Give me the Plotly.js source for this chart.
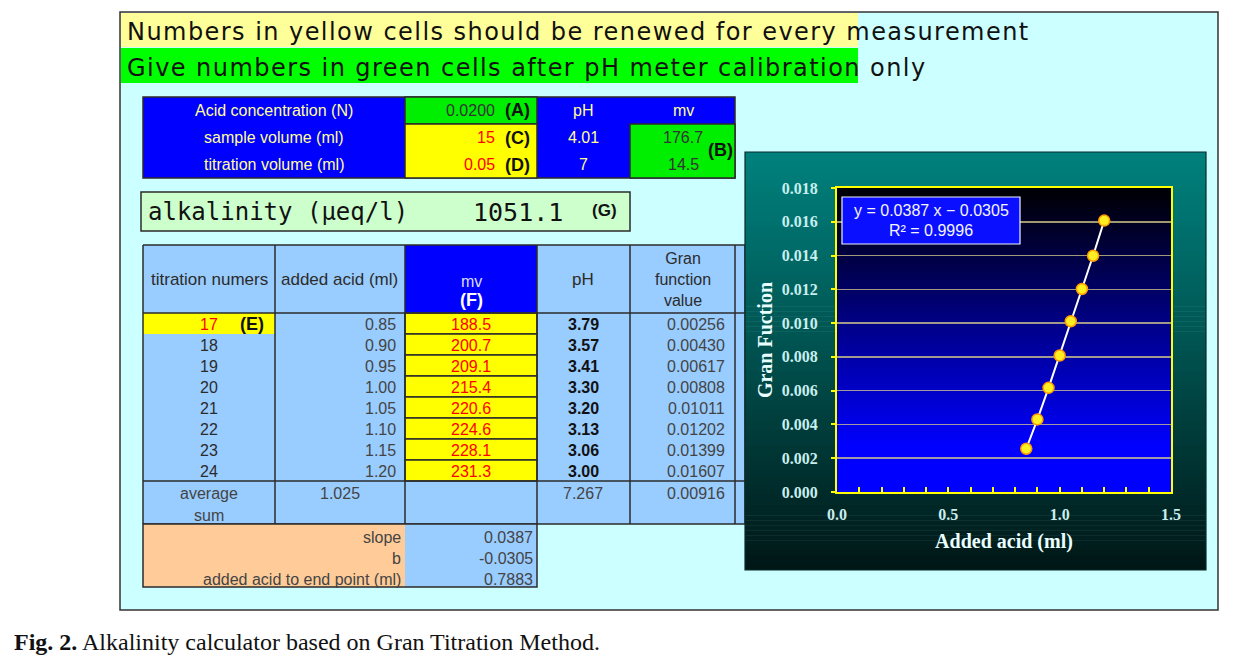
<!DOCTYPE html>
<html>
<head>
<meta charset="utf-8">
<script src="https://cdn.plot.ly/plotly-3.0.1.min.js"></script>
<style>
  html, body { margin: 0; padding: 0; background: #ffffff; }
  #chart { width: 1238px; height: 661px; }
</style>
</head>
<body>
<div id="chart"></div>
<script>
// ---------------- data ----------------
const bannerTexts = [
  'Numbers in yellow cells should be renewed for every measurement',
  'Give numbers in green cells after pH meter calibration only'
];
const inputLabels = ['Acid concentration (N)', 'sample volume (ml)', 'titration volume (ml)'];
const inputValues = ['0.0200', '15', '0.05'];
const inputTags = ['(A)', '(C)', '(D)'];
const calibHeaders = ['pH', 'mv'];
const calibPH = ['4.01', '7'];
const calibMV = ['176.7', '14.5'];
const alkalinityLabel = 'alkalinity (\u03bceq/l)';
const alkalinityValue = '1051.1';
const tableHeaders = ['titration numers', 'added acid (ml)', 'mv', 'pH', 'Gran<br>function<br>value'];
const titrationNumbers = [17, 18, 19, 20, 21, 22, 23, 24];
const addedAcid = [0.85, 0.90, 0.95, 1.00, 1.05, 1.10, 1.15, 1.20];
const mvValues = [188.5, 200.7, 209.1, 215.4, 220.6, 224.6, 228.1, 231.3];
const pHValues = [3.79, 3.57, 3.41, 3.30, 3.20, 3.13, 3.06, 3.00];
const granValues = [0.00256, 0.00430, 0.00617, 0.00808, 0.01011, 0.01202, 0.01399, 0.01607];
const summaryLabels = ['average', 'sum'];
const summaryAcid = '1.025';
const summaryPH = '7.267';
const summaryGran = '0.00916';
const regressionLabels = ['slope', 'b', 'added acid to end point (ml)'];
const regressionValues = ['0.0387', '-0.0305', '0.7883'];
const equationLines = ['y = 0.0387 x \u2212 0.0305', 'R\u00b2 = 0.9996'];
const xTitle = 'Added acid (ml)';
const yTitle = 'Gran Fuction';
const caption = '<b>Fig. 2.</b> Alkalinity calculator based on Gran Titration Method.';

// ---------------- helpers ----------------
const W = 1238, H = 661;
const px = x => x / W;
const py = y => 1 - y / H;
const shapes = [];
const ann = [];
function rect(x0, y0, x1, y1, fill, lc, lw, layer) {
  shapes.push({type: 'rect', xref: 'paper', yref: 'paper',
    x0: px(x0), x1: px(x1), y0: py(y1), y1: py(y0),
    fillcolor: fill || 'rgba(0,0,0,0)',
    line: lc ? {color: lc, width: lw || 1} : {width: 0},
    layer: layer || 'below'});
}
function line(x0, y0, x1, y1, lc, lw, layer) {
  shapes.push({type: 'line', xref: 'paper', yref: 'paper',
    x0: px(x0), x1: px(x1), y0: py(y0), y1: py(y1),
    line: {color: lc, width: lw || 1}, layer: layer || 'below'});
}
function txt(x, y, s, size, color, anchor, opts) {
  opts = opts || {};
  ann.push({xref: 'paper', yref: 'paper', x: px(x), y: py(y), text: s,
    showarrow: false, xanchor: anchor || 'center', yanchor: 'middle',
    align: opts.align || 'center',
    font: {family: opts.family || 'Liberation Sans, Arial, sans-serif', size: size,
      color: color, weight: opts.bold ? 'bold' : 'normal'}});
}
const DARK = '#2b2b2b';
const LBLUE = '#99ccff';
const BLUE = '#0000ff';
const YEL = '#ffff00';
const GRN = '#00ee00';
const RED = '#ff0000';
const PALE = '#ffff99';
const TS = 16;   // table label size
const HS = 17;   // header label size
const NS_ = 16;  // table number size

// ---------------- spreadsheet panel ----------------
rect(120, 12, 1218, 610, '#ccffff', '#333333', 1.5);
rect(121, 13, 858, 47, '#ffff99');
rect(121, 48, 858, 83, '#00ff00');
const spaced = s => '<span style="letter-spacing:1.45px">' + s + '</span>';
txt(125, 32, spaced(bannerTexts[0]), 24, '#111111', 'left', {family: 'DejaVu Sans, sans-serif'});
txt(125, 68, spaced(bannerTexts[1]), 24, '#111111', 'left', {family: 'DejaVu Sans, sans-serif'});

// top input table
const tRows = [97, 124, 151, 178];
rect(143, 97, 735, 178, BLUE, DARK, 1.5);
rect(405, 97, 537, 124, GRN, DARK, 1.5);
rect(405, 124, 537, 178, YEL, DARK, 1.5);
rect(630, 124, 735, 178, GRN, DARK, 1.5);
for (let i = 0; i < 3; i++) {
  const yc = (tRows[i] + tRows[i + 1]) / 2;
  txt(274, yc, inputLabels[i], TS, PALE, 'center');
  txt(497, yc, inputValues[i], NS_, i === 0 ? '#333333' : RED, 'right');
  txt(517, yc, inputTags[i], 18, '#111111', 'center', {bold: true});
}
txt(583, 111, calibHeaders[0], TS, PALE, 'center');
txt(683, 111, calibHeaders[1], TS, PALE, 'center');
for (let i = 0; i < 2; i++) {
  const yc = (tRows[i + 1] + tRows[i + 2]) / 2;
  txt(583, yc, calibPH[i], NS_, PALE, 'center');
  txt(683, yc, calibMV[i], NS_, '#333333', 'center');
}
txt(720, 150, '(B)', 18, '#111111', 'center', {bold: true});

// alkalinity box
rect(141, 192, 630, 231, '#ccffcc', DARK, 1.5);
txt(146, 212, alkalinityLabel, 24, '#111111', 'left', {family: 'DejaVu Sans Mono, monospace'});
txt(471, 212, alkalinityValue, 25, '#111111', 'left', {family: 'DejaVu Sans Mono, monospace'});
txt(604, 210, '(G)', 17, '#111111', 'center', {bold: true});

// main table
const cols = [143, 275, 405, 537, 630, 735, 745];
const hTop = 245, hBot = 313, rowH = 21;
const dBot = hBot + rowH * titrationNumbers.length; // 481
const sBot = 524;
rect(143, hTop, 745, sBot, LBLUE, null);
rect(405, hTop, 537, hBot, BLUE, null);
rect(143, hBot, 275, hBot + rowH, YEL, null);
for (let i = 0; i < titrationNumbers.length; i++) {
  rect(405, hBot + rowH * i, 537, hBot + rowH * (i + 1), YEL, DARK, 1.5);
}
cols.forEach(c => line(c, hTop, c, sBot, DARK, 1.5));
[hTop, hBot, dBot, sBot].forEach(y => line(143, y, 745, y, DARK, 1.5));
// headers
txt(209, 280, tableHeaders[0], HS, DARK, 'center');
txt(340, 280, tableHeaders[1], HS, DARK, 'center');
txt(471, 282, tableHeaders[2], TS, '#ddddff', 'center');
txt(471, 300, '(F)', 18, '#ffffff', 'center', {bold: true});
txt(583, 280, tableHeaders[3], HS, DARK, 'center');
txt(683, 280, tableHeaders[4], TS, DARK, 'center');
// rows
for (let i = 0; i < titrationNumbers.length; i++) {
  const yc = hBot + rowH * i + rowH / 2 + 1;
  txt(209, yc, String(titrationNumbers[i]), NS_, i === 0 ? RED : DARK, 'center');
  txt(398, yc, addedAcid[i].toFixed(2), NS_, '#444444', 'right');
  txt(471, yc, mvValues[i].toFixed(1), NS_, RED, 'center');
  txt(583, yc, pHValues[i].toFixed(2), NS_, '#111111', 'center', {bold: true});
  txt(727, yc, granValues[i].toFixed(5), NS_, '#444444', 'right');
}
txt(252, hBot + rowH / 2, '(E)', 18, '#111111', 'center', {bold: true});
// summary
txt(209, 493, summaryLabels[0], TS, '#444444', 'center');
txt(209, 515, summaryLabels[1], TS, '#444444', 'center');
txt(340, 493, summaryAcid, NS_, '#444444', 'center');
txt(583, 493, summaryPH, NS_, '#444444', 'center');
txt(727, 493, summaryGran, NS_, '#444444', 'right');
// regression block
rect(143, sBot, 405, 587, '#ffcc99', null);
rect(405, sBot, 537, 587, LBLUE, null);
rect(143, sBot, 537, 587, null, DARK, 1.5);
for (let i = 0; i < 3; i++) {
  const yc = sBot + 13 + 21 * i;
  txt(403, yc, regressionLabels[i], TS, '#444444', 'right');
  txt(535, yc, regressionValues[i], NS_, '#444444', 'right');
}

// ---------------- chart box with gradients ----------------
const cbx0 = 745, cbx1 = 1206, cby0 = 152, cby1 = 570;
const NS = 84;
for (let i = 0; i < NS; i++) {
  const t = (i + 0.5) / NS;
  const g = Math.round(128 - 106 * Math.pow(t, 1.1));
  const y0 = cby0 + (cby1 - cby0) * i / NS;
  const y1 = cby0 + (cby1 - cby0) * (i + 1) / NS + 0.6;
  rect(cbx0, y0, cbx1, Math.min(y1, cby1), `rgb(0,${g},${Math.round(g * 0.97)})`, null);
}
rect(cbx0, cby0, cbx1, cby1, null, '#0b2b2b', 1.2);
const pbx0 = 837, pbx1 = 1171, pby0 = 188, pby1 = 492;
const NP = 76;
for (let i = 0; i < NP; i++) {
  const t = (i + 0.5) / NP;
  const b = Math.round(255 * Math.min(1, t / 0.85));
  const y0 = pby0 + (pby1 - pby0) * i / NP;
  const y1 = pby0 + (pby1 - pby0) * (i + 1) / NP + 0.6;
  rect(pbx0, y0, pbx1, Math.min(y1, pby1), `rgb(0,0,${Math.max(b, 8)})`, null);
}
// equation box
rect(842, 197, 1020, 244, '#0a10ff', '#f0f0ff', 1.2, 'above');
txt(931, 210, equationLines[0], 16, '#f4f4ff', 'center');
txt(931, 231, equationLines[1], 16, '#f4f4ff', 'center');

// caption
txt(12, 642, caption, 24, '#111111', 'left', {family: 'Liberation Serif, Times New Roman, serif'});

// ---------------- trace ----------------
const trace = {
  x: addedAcid, y: granValues, type: 'scatter', mode: 'lines+markers',
  line: {color: '#ffffff', width: 2},
  marker: {color: '#ffee22', size: 11, line: {color: '#ff9900', width: 1.5}},
  hoverinfo: 'x+y', showlegend: false
};

const tickFont = {family: 'Liberation Serif, Times New Roman, serif', size: 16, color: '#c8eeee', weight: 'bold'};
const layout = {
  width: W, height: H,
  margin: {l: 0, r: 0, t: 0, b: 0},
  paper_bgcolor: '#ffffff',
  plot_bgcolor: 'rgba(0,0,0,0)',
  showlegend: false,
  xaxis: {
    domain: [px(pbx0), px(pbx1)], range: [0, 1.5], dtick: 0.5, tick0: 0,
    tickformat: '.1f', showgrid: false, zeroline: false,
    showline: true, mirror: true, linecolor: '#ffff00', linewidth: 2,
    ticks: 'inside', ticklen: 5, tickwidth: 2, tickcolor: '#ffff00',
    minor: {dtick: 0.1, ticks: 'inside', ticklen: 5, tickwidth: 2, tickcolor: '#ffff00', showgrid: false},
    tickfont: tickFont, automargin: false, ticklabelstandoff: 7,
    title: {text: xTitle, standoff: 12, font: {family: 'Liberation Serif, Times New Roman, serif', size: 20, color: '#eaffff', weight: 'bold'}}
  },
  yaxis: {
    domain: [py(pby1), py(pby0)], range: [0, 0.018], dtick: 0.002, tick0: 0,
    tickformat: '.3f', showgrid: true, gridcolor: 'rgba(215,205,140,0.75)', gridwidth: 1.5,
    zeroline: false,
    showline: true, mirror: true, linecolor: '#ffff00', linewidth: 2,
    ticks: 'outside', ticklen: 4, tickwidth: 2, tickcolor: '#ffff00',
    tickfont: tickFont, automargin: false, ticklabelstandoff: 10,
    title: {text: yTitle, standoff: 4, font: {family: 'Liberation Serif, Times New Roman, serif', size: 20, color: '#eaffff', weight: 'bold'}}
  },
  shapes: shapes,
  annotations: ann
};

Plotly.newPlot('chart', [trace], layout, {displayModeBar: false, staticPlot: true});
</script>
</body>
</html>
